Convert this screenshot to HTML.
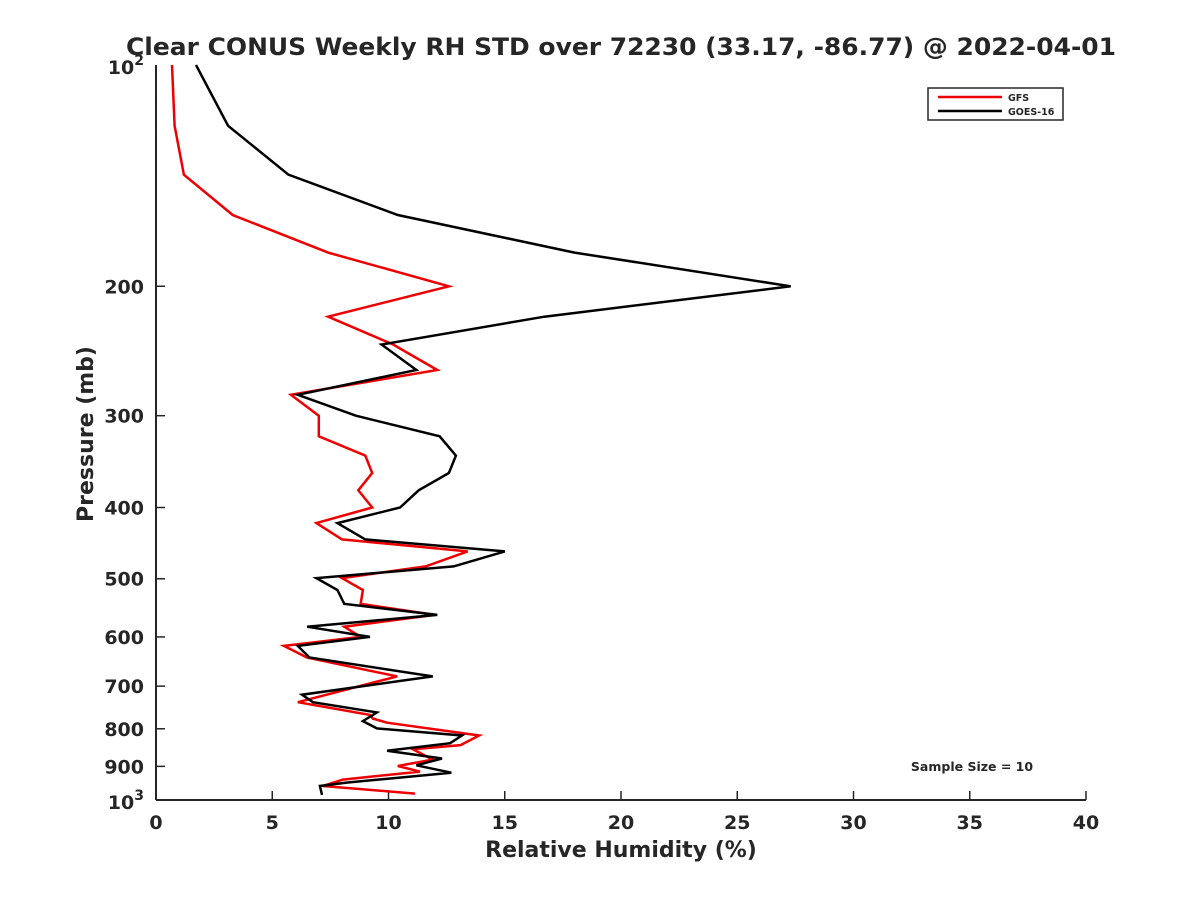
<!DOCTYPE html>
<html><head><meta charset="utf-8"><style>
body{margin:0;background:#fff}
svg text{font-family:"DejaVu Sans","Liberation Sans",sans-serif;font-weight:bold;fill:#262626}
</style></head><body>
<svg id="chart" width="1200" height="900">
<rect width="1200" height="900" fill="#fff"/>
<text x="621" y="55" text-anchor="middle" font-size="24" textLength="990" lengthAdjust="spacingAndGlyphs">Clear CONUS Weekly RH STD over 72230 (33.17, -86.77) @ 2022-04-01</text>
<g id="axes"></g>
<g id="series"></g>
<text x="621" y="857" text-anchor="middle" font-size="22">Relative Humidity (%)</text>
<text transform="translate(93,434) rotate(-90)" text-anchor="middle" font-size="22">Pressure (mb)</text>
<g>
<rect x="928" y="88" width="135" height="32" fill="#fff" stroke="#262626" stroke-width="1.5"/>
<line x1="938" y1="97" x2="1002" y2="97" stroke="#e00" stroke-width="2.5"/>
<text x="1008" y="101" font-size="9.5">GFS</text>
<line x1="938" y1="111" x2="1002" y2="111" stroke="#000" stroke-width="2.5"/>
<text x="1008" y="115" font-size="9.5">GOES-16</text>
</g>
<text x="972" y="771" text-anchor="middle" font-size="12.5">Sample Size = 10</text>
</svg>
<script>
const xTicks=[0,5,10,15,20,25,30,35,40];
const yTicks=[200,300,400,500,600,700,800,900];
const goesP=[100,121,141,160,180,200,220,240,260,281,300,320,340,359,379,400,420,442,459,481,499,518,541,560,581,600,617,640,679,719,736,760,781,799,817,837,857,878,897,918,947,957,984];
const goesRH=[1.72,3.1,5.7,10.4,18.0,27.3,16.7,9.7,11.2,6.1,8.6,12.2,12.9,12.6,11.3,10.5,7.8,9.0,15.0,12.8,6.9,7.8,8.1,12.1,6.5,9.2,6.1,6.6,11.9,6.28,6.75,9.5,8.9,9.5,13.16,12.65,9.94,12.3,11.2,12.7,8.2,7.05,7.14];
const gfsP=[100,121,141,160,180,200,220,240,260,281,300,320,340,359,379,400,420,442,459,481,499,518,541,560,581,600,617,640,679,736,766,775,785,817,842,853,881,899,915,938,957,980];
const gfsRH=[0.69,0.8,1.2,3.3,7.4,12.6,7.4,10.2,12.1,5.8,7.0,7.0,9.0,9.3,8.7,9.3,6.9,8.0,13.4,11.6,8.0,8.9,8.8,12.0,8.1,8.8,5.5,6.5,10.37,6.1,9.2,9.33,9.94,13.9,13.1,11.05,11.9,10.4,11.35,8.04,7.18,11.14];
const NS="http://www.w3.org/2000/svg";
const X0=156,X1=1086,Y0=65,Y1=800;
const xs=v=>X0+(v/40)*(X1-X0);
const ys=p=>Y0+(Math.log10(p)-2)*(Y1-Y0);
function mk(t,a,parent){const e=document.createElementNS(NS,t);for(const k in a)e.setAttribute(k,a[k]);parent.appendChild(e);return e;}
const axes=document.getElementById('axes'),ser=document.getElementById('series');
const xa=mk('line',{x1:X0,y1:Y1,x2:X1,y2:Y1,stroke:'#262626','stroke-width':2},axes);


const ya=mk('line',{x1:X0,y1:Y0,x2:X0,y2:Y1,stroke:'#262626','stroke-width':2},axes);


xTicks.forEach(v=>{
 mk('line',{x1:xs(v),y1:Y1,x2:xs(v),y2:Y1-9,stroke:'#262626','stroke-width':1.5},axes);
 const t=mk('text',{x:xs(v),y:Y1+29,'text-anchor':'middle','font-size':19},axes);t.textContent=v;
 
 
});
yTicks.forEach(p=>{
 mk('line',{x1:X0,y1:ys(p),x2:X0+9,y2:ys(p),stroke:'#262626','stroke-width':1.5},axes);
 const t=mk('text',{x:X0-12,y:ys(p)+7,'text-anchor':'end','font-size':19},axes);t.textContent=p;
 
 
});
[[Y0,'2'],[Y1,'3']].forEach(([y,e])=>{
 const t=mk('text',{x:X0-12,y:y+9,'text-anchor':'end','font-size':19},axes);
 t.innerHTML='10<tspan dy="-9" font-size="14">'+e+'</tspan>';
 
 
});
function line(P,V,color,name){
 const d=P.map((p,i)=>(i?'L':'M')+xs(V[i]).toFixed(1)+','+ys(p).toFixed(1)).join('');
 const e=mk('path',{d:d,fill:'none',stroke:color,'stroke-width':2.5,'stroke-linejoin':'miter'},ser);
 
 
}
line(gfsP,gfsRH,'#e00','gfs-line');
line(goesP,goesRH,'#000','goes16-line');
</script>
</body></html>
